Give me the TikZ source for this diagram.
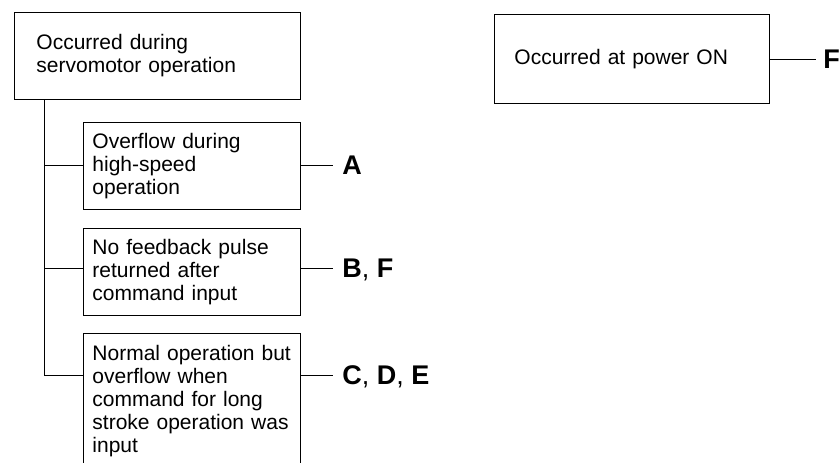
\documentclass[tikz,border=0pt]{standalone}
\usepackage{fontspec}
\setmainfont{Liberation Sans}
\usetikzlibrary{positioning}

\begin{document}
\begin{tikzpicture}[x=1pt,y=-1pt,line width=0.9pt,
      box/.style={draw,anchor=north west,align=left,inner ysep=0pt,
        font=\fontsize{21}{23}\selectfont},
      letter/.style={anchor=west,inner xsep=9pt,inner ysep=0pt,text depth=0pt,
        font=\fontsize{27}{30}\selectfont\bfseries}]
    \clip (0,0) rectangle (839,463);
    % left branch
    \node[box,inner xsep=22pt,text width=242pt,minimum height=87pt] (srv) at (14,12)
      {Occurred during\\servomotor operation};
    \coordinate (trunk) at (44,375);
    \draw (trunk |- srv.south) -- (trunk);
    \foreach \i/\ty/\h/\ly/\txt/\lbl in {
        A/122/87/165/{Overflow during\\high-speed\\operation}/{A},
        B/228/87/268/{No feedback pulse\\returned after\\command input}/{B{\mdseries,} F},
        C/333/136/375/{Normal operation but\\overflow when\\command for long\\stroke operation was\\input}/{C{\mdseries,} D{\mdseries,} E}} {
      \node[box,inner xsep=9pt,text width=199pt,minimum height=\h pt] (b\i) at (83,\ty) {\txt};
      \node[letter] (l\i) at (333,\ly) {\lbl};
      \draw (trunk |- l\i.west) -- (b\i.west |- l\i.west);
      \draw (b\i.east |- l\i.west) -- (l\i.west);
    }
    % right branch
    \node[box,inner xsep=20pt,text width=235pt,minimum height=89pt] (pwr) at (494,14)
      {Occurred at power ON};
    \node[letter,inner xsep=7pt,right=46pt of pwr] (lF) {F};
    \draw (pwr.east) -- (lF.west);
\end{tikzpicture}
\end{document}
